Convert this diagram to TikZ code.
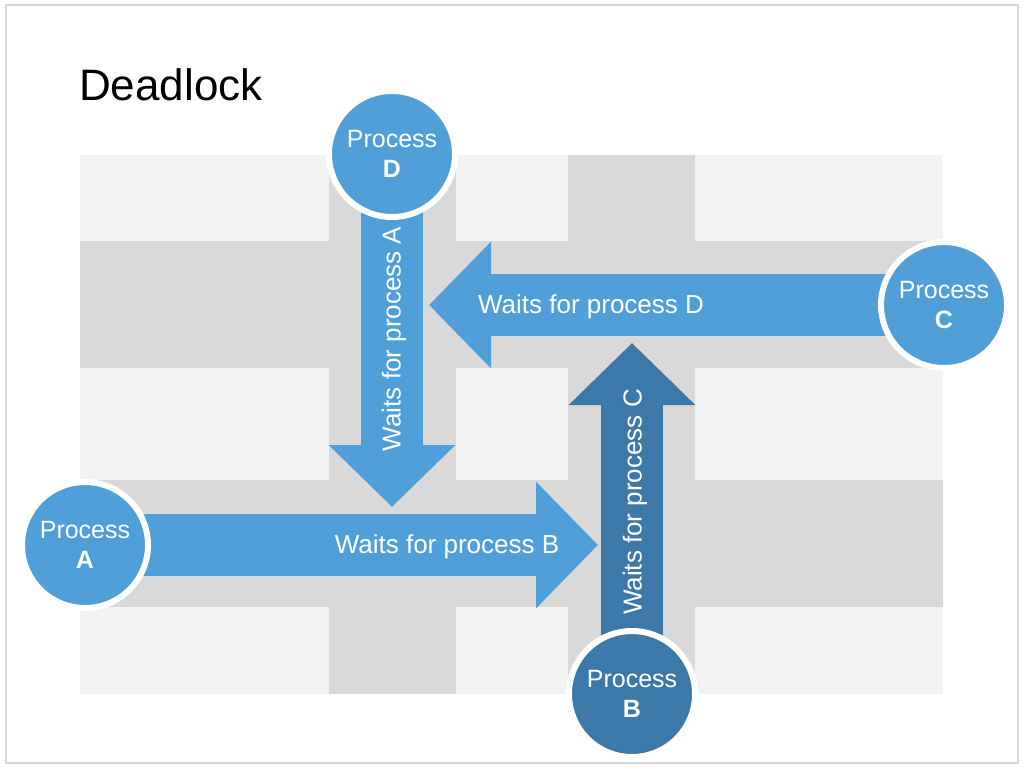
\documentclass[tikz,border=0pt]{standalone}
\usepackage{fontspec}
\setmainfont{Liberation Sans}
\usetikzlibrary{arrows.meta}
\definecolor{lightblue}{HTML}{519FD9}
\definecolor{darkblue}{HTML}{3C79A9}
\definecolor{bglight}{HTML}{F2F2F2}
\definecolor{bgdark}{HTML}{D9D9D9}
\definecolor{framegray}{HTML}{D9D9D9}
\tikzset{
  proc/.style={circle, minimum size=126pt, inner sep=0pt, draw=white, line width=6pt,
    text=white, align=center, font=\fontsize{25}{30}\selectfont},
  blockarrow/.style={line width=62pt, -{Triangle[width=123pt,length=62pt]}},
  lbl/.style={text=white, inner sep=0pt, font=\fontsize{26}{30}\selectfont},
}
\begin{document}
\begin{tikzpicture}[x=1pt,y=-1pt]
\useasboundingbox (0,0) rectangle (1024,768);
% frame
\draw[framegray, line width=2pt] (6,5) rectangle (1018,763);
% background grid
\fill[bglight] (80,155) rectangle (943,694);
\fill[bgdark] (80,241) rectangle (943,368);
\fill[bgdark] (80,480) rectangle (943,607);
\fill[bgdark] (329,155) rectangle (456,694);
\fill[bgdark] (568,155) rectangle (695,694);
% title
\node[anchor=base west, inner sep=0pt, font=\fontsize{44}{50}\selectfont] (title) at (79,100) {Deadlock};
% coordinates
\coordinate (tA) at (392,507);
\coordinate (tD) at (429,305);
\coordinate (tB) at (598,545);
\coordinate (tC) at (632,343);
% process positions
\coordinate (pD) at (392,154);
\coordinate (pC) at (944,305);
\coordinate (pA) at (85,545);
\coordinate (pB) at (632,694);
% arrows
\draw[blockarrow, lightblue] (pD) -- (tA);
\draw[blockarrow, lightblue] (pC) -- (tD);
\draw[blockarrow, lightblue] (pA) -- (tB);
\draw[blockarrow, darkblue] (pB) -- (tC);
% labels
\node[lbl, rotate=90] (lA) at (394,339) {Waits for process A};
\node[lbl] (lD) at (591,307) {Waits for process D};
\node[lbl] (lB) at (447,547) {Waits for process B};
\node[lbl, rotate=90] (lC) at (635,502) {Waits for process C};
% process circles
\node[proc, fill=lightblue] (D) at (pD) {Process\\\textbf{D}};
\node[proc, fill=lightblue] (C) at (pC) {Process\\\textbf{C}};
\node[proc, fill=lightblue] (A) at (pA) {Process\\\textbf{A}};
\node[proc, fill=darkblue] (B) at (pB) {Process\\\textbf{B}};
\end{tikzpicture}
\end{document}
